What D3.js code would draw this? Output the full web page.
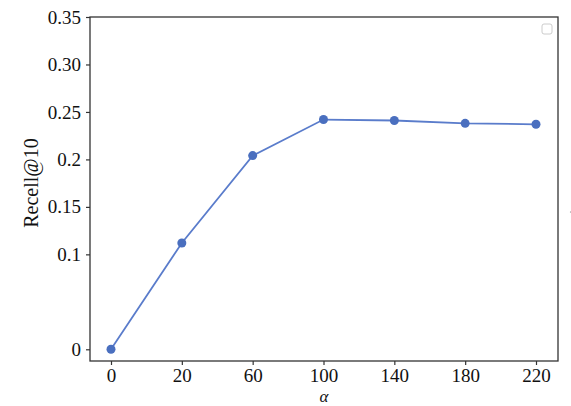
<!DOCTYPE html>
<html><head><meta charset="utf-8">
<script src="https://cdn.jsdelivr.net/npm/d3@7"></script>
<style>body{margin:0;background:#fff}svg{display:block}</style>
</head><body>
<script>
const categories = ["0","20","60","100","140","180","220"];
const recall = [0, 0.112, 0.204, 0.242, 0.241, 0.238, 0.237];
const yTicks = [0, 0.1, 0.15, 0.2, 0.25, 0.30, 0.35];
const yTickLabels = ["0","0.1","0.15","0.2","0.25","0.30","0.35"];

const W = 571, H = 406;
const m = {l: 90, t: 17, r: 558, b: 361};
const svg = d3.select("body").append("svg").attr("width", W).attr("height", H);

const x = d3.scalePoint().domain(categories).range([111, 536]);
const y = d3.scaleLinear().domain([0, 0.35]).range([349.3, m.t]);

const font = "'Liberation Serif','Times New Roman',serif";

// frame
svg.append("rect").attr("x", m.l).attr("y", m.t).attr("width", m.r - m.l).attr("height", m.b - m.t)
  .attr("fill", "none").attr("stroke", "#333").attr("stroke-width", 1.3);

const xAxis = svg.append("g").attr("transform", `translate(0,${m.b})`)
  .call(d3.axisBottom(x).tickSize(4).tickPadding(4));
const yAxis = svg.append("g").attr("transform", `translate(${m.l},0)`)
  .call(d3.axisLeft(y).tickValues(yTicks).tickFormat((d,i) => yTickLabels[i]).tickSize(4).tickPadding(5));
[xAxis, yAxis].forEach(g => {
  g.select(".domain").remove();
  g.selectAll(".tick line").attr("stroke", "#333").attr("stroke-width", 1.2);
  g.selectAll("text").attr("font-family", font).attr("font-size", 19).attr("fill", "#111");
});

// line
const line = d3.line().x((d,i) => x(categories[i])).y(d => y(d));
svg.append("path").datum(recall).attr("d", line).attr("fill", "none")
  .attr("stroke", "#5a7ccb").attr("stroke-width", 1.8);
svg.selectAll("circle.pt").data(recall).enter().append("circle").attr("class", "pt")
  .attr("cx", (d,i) => x(categories[i])).attr("cy", d => y(d)).attr("r", 4.5)
  .attr("fill", "#4a6fbf");

// labels
svg.append("text").attr("transform", "translate(38,183) rotate(-90)").attr("text-anchor", "middle")
  .attr("font-family", font).attr("font-size", 20).attr("fill", "#111").text("Recell@10");
svg.append("text").attr("x", 324).attr("y", 402).attr("text-anchor", "middle")
  .attr("font-family", font).attr("font-style", "italic").attr("font-size", 17).attr("fill", "#111").text("α");

// empty legend box
svg.append("rect").attr("x", 542).attr("y", 24).attr("width", 10).attr("height", 10).attr("rx", 2)
  .attr("fill", "#fff").attr("stroke", "#ccc").attr("stroke-width", 1);
svg.append("circle").attr("cx", 570.5).attr("cy", 212).attr("r", 0.6).attr("fill", "#888");
</script>
</body></html>
